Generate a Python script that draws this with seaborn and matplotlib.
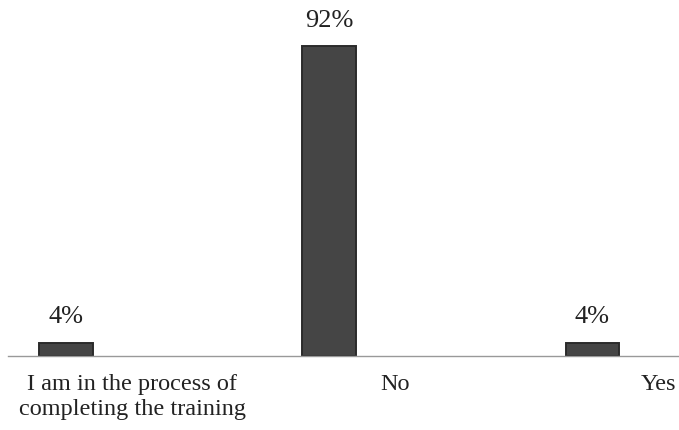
import matplotlib
matplotlib.use("Agg")
import matplotlib.pyplot as plt
import seaborn as sns
import pandas as pd

categories = ["I am in the process of\ncompleting the training", "No", "Yes"]
values = [4, 92, 4]
value_labels = ["4%", "92%", "4%"]

sns.set_theme(style="white")
plt.rcParams['font.family'] = ['Liberation Serif', 'DejaVu Serif']

df = pd.DataFrame({"category": categories, "value": values})

fig = plt.figure(figsize=(6.79, 4.31), dpi=100)
ax = fig.add_axes([8/679, 74/431, 1 - 8/679, 357/431])

sns.barplot(data=df, x="category", y="value", ax=ax, color="#454545",
            width=0.205, edgecolor="#2b2b2b", linewidth=1.4, saturation=1)

ax.set_xlim(-0.222, 2.329)
ax.set_ylim(0, 92 * 357 / 310)

for patch, lab in zip(ax.patches, value_labels):
    cx = patch.get_x() + patch.get_width() / 2
    ax.annotate(lab, (cx, patch.get_height()), xytext=(0, 11),
                textcoords="offset points", ha="center", va="bottom",
                fontsize=19, color="#222222")

offset = 0.25
ax.set_xticks([i + offset for i in range(len(categories))])
ax.set_xticklabels(categories, fontsize=17.5, color="#222222", linespacing=1.3)
ax.tick_params(axis="x", length=0, pad=12)
ax.set_yticks([])
ax.set_xlabel("")
ax.set_ylabel("")
for s in ["top", "right", "left"]:
    ax.spines[s].set_visible(False)
ax.spines["bottom"].set_color("#999999")
ax.spines["bottom"].set_linewidth(1.0)

fig.savefig("out.png", dpi=100)
